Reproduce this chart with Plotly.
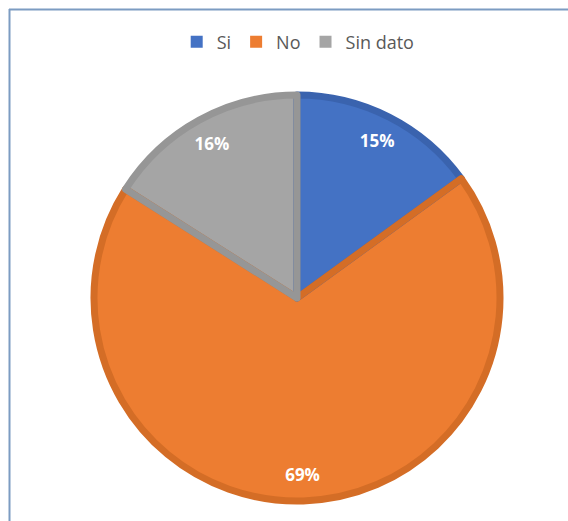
import plotly.graph_objects as go

labels = ["Si", "No", "Sin dato"]
values = [15, 69, 16]
fill_colors = ["#4472C4", "#ED7D31", "#A5A5A5"]
edge_colors = ["#3A63AE", "#D46D26", "#969696"]

W, H = 568, 521
cx, cy, R = 297, 298, 203
dom_x = [(cx - R) / W, (cx + R) / W]
dom_y = [1 - (cy + R) / H, 1 - (cy - R) / H]

common = dict(labels=labels, values=values, sort=False, direction="clockwise", rotation=0,
              domain=dict(x=dom_x, y=dom_y))

fig = go.Figure()
# filled slices (also define the legend swatches)
fig.add_trace(go.Pie(
    **common,
    marker=dict(colors=fill_colors, line=dict(width=0)),
    textinfo="none", hoverinfo="label+percent", showlegend=True,
))
# darker slice outlines
fig.add_trace(go.Pie(
    **common,
    marker=dict(colors=["rgba(0,0,0,0)"] * 3, line=dict(color=edge_colors, width=7)),
    textinfo="none", hoverinfo="skip", showlegend=False,
))
# transparent ring used only to place the percentage labels near the outer edge
fig.add_trace(go.Pie(
    **common,
    hole=0.74,
    marker=dict(colors=["rgba(0,0,0,0)"] * 3, line=dict(width=0)),
    textinfo="percent", textposition="inside", insidetextorientation="horizontal",
    texttemplate="%{percent:.0%}",
    textfont=dict(family="Open Sans", size=17, color="white", weight="bold"),
    showlegend=False, hoverinfo="skip",
))

fig.update_layout(
    width=W, height=H,
    margin=dict(l=0, r=0, t=0, b=0),
    paper_bgcolor="white", plot_bgcolor="white",
    legend=dict(orientation="h", x=0.525, xanchor="center", y=1 - 42 / H, yanchor="middle",
                font=dict(family="Open Sans", size=18, color="#595959"),
                itemwidth=30, traceorder="normal"),
    shapes=[
        dict(type="line", xref="paper", yref="paper", x0=9 / W, x1=1, y0=1 - 9.5 / H, y1=1 - 9.5 / H,
             line=dict(color="#7C9CC2", width=2)),
        dict(type="line", xref="paper", yref="paper", x0=9.5 / W, x1=9.5 / W, y0=0, y1=1 - 9 / H,
             line=dict(color="#7C9CC2", width=2)),
    ],
)

fig.write_html("out.html")
